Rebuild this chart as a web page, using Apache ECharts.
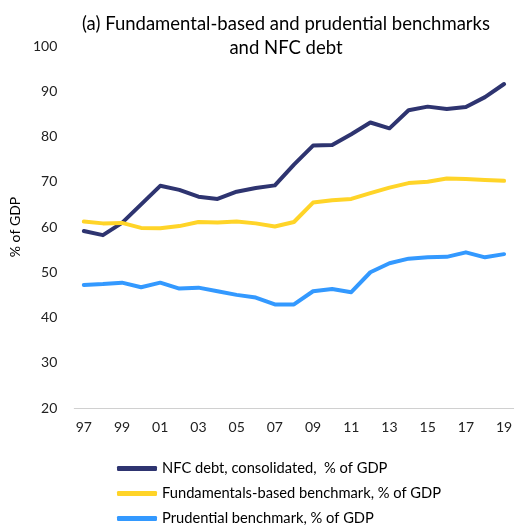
<!DOCTYPE html>
<html>
<head>
<meta charset="utf-8">
<script src="https://cdn.jsdelivr.net/npm/echarts@6/dist/echarts.min.js"></script>
<style>
  html, body { margin: 0; padding: 0; background: #fff; }
  #chart { width: 515px; height: 529px; }
</style>
</head>
<body>
<div id="chart"></div>
<script>
// years 1997-2019, two-digit labels
const years = ["97", "98", "99", "00", "01", "02", "03", "04", "05", "06", "07", "08",
  "09", "10", "11", "12", "13", "14", "15", "16", "17", "18", "19"];

// NFC debt, consolidated, % of GDP
const nfcDebt = [59.1, 58.2, 60.9, 65.0, 69.1, 68.2, 66.7, 66.2, 67.8, 68.6, 69.2, 73.8,
  78.0, 78.1, 80.5, 83.1, 81.8, 85.8, 86.6, 86.1, 86.5, 88.7, 91.6];

// Fundamentals-based benchmark
const fundamentals = [61.2, 60.8, 60.9, 59.8, 59.7, 60.2, 61.1, 61.0, 61.2, 60.8, 60.1, 61.1,
  65.4, 65.9, 66.2, 67.5, 68.7, 69.7, 70.0, 70.7, 70.6, 70.4, 70.2];

// Prudential benchmark
const prudential = [47.2, 47.4, 47.7, 46.7, 47.7, 46.4, 46.6, 45.8, 45.0, 44.4, 42.9, 42.9,
  45.8, 46.3, 45.6, 50.0, 52.0, 53.0, 53.3, 53.4, 54.4, 53.3, 54.0];

const seriesNames = [
  "NFC debt, consolidated,  % of GDP",
  "Fundamentals-based benchmark, % of GDP",
  "Prudential benchmark, % of GDP",
];
const colors = ["#2e3470", "#ffd428", "#3399ff"];

const chart = echarts.init(document.getElementById("chart"));
const font = "Lato, 'Open Sans', sans-serif";

function lineSeries(i, data) {
  return {
    name: seriesNames[i],
    type: "line",
    data: data,
    symbol: "none",
    lineStyle: { width: 4, color: colors[i], cap: "round", join: "round" },
    itemStyle: { color: colors[i] },
    animation: false,
  };
}

chart.setOption({
  textStyle: { fontFamily: font },
  title: {
    text: "(a) Fundamental-based and prudential benchmarks\nand NFC debt",
    left: 281,
    textAlign: "center",
    top: 7,
    textStyle: { fontSize: 18.5, fontWeight: "normal", color: "#000", lineHeight: 24, fontFamily: font },
  },
  grid: { left: 66, right: 0, top: 46, bottom: 121, containLabel: false },
  legend: {
    orient: "vertical",
    left: 112,
    top: 456,
    height: 80,
    itemWidth: 40,
    itemHeight: 5,
    itemGap: 10,
    icon: "roundRect",
    textStyle: { fontSize: 14.7, color: "#000", fontFamily: font },
    data: seriesNames,
  },
  xAxis: {
    type: "category",
    data: years,
    boundaryGap: true,
    axisLine: { lineStyle: { color: "#d0d0d0", width: 1 } },
    axisTick: { show: false },
    axisLabel: { interval: 1, fontSize: 14, color: "#222", margin: 12 },
  },
  yAxis: {
    type: "value",
    min: 20,
    max: 100,
    interval: 10,
    name: "% of GDP",
    nameLocation: "middle",
    nameRotate: 90,
    nameGap: 48,
    nameTextStyle: { fontSize: 14, color: "#000" },
    axisLine: { show: false },
    axisTick: { show: false },
    splitLine: { show: false },
    axisLabel: { fontSize: 14, color: "#222", margin: 17 },
  },
  series: [
    lineSeries(0, nfcDebt),
    lineSeries(1, fundamentals),
    lineSeries(2, prudential),
  ],
});
</script>
</body>
</html>
